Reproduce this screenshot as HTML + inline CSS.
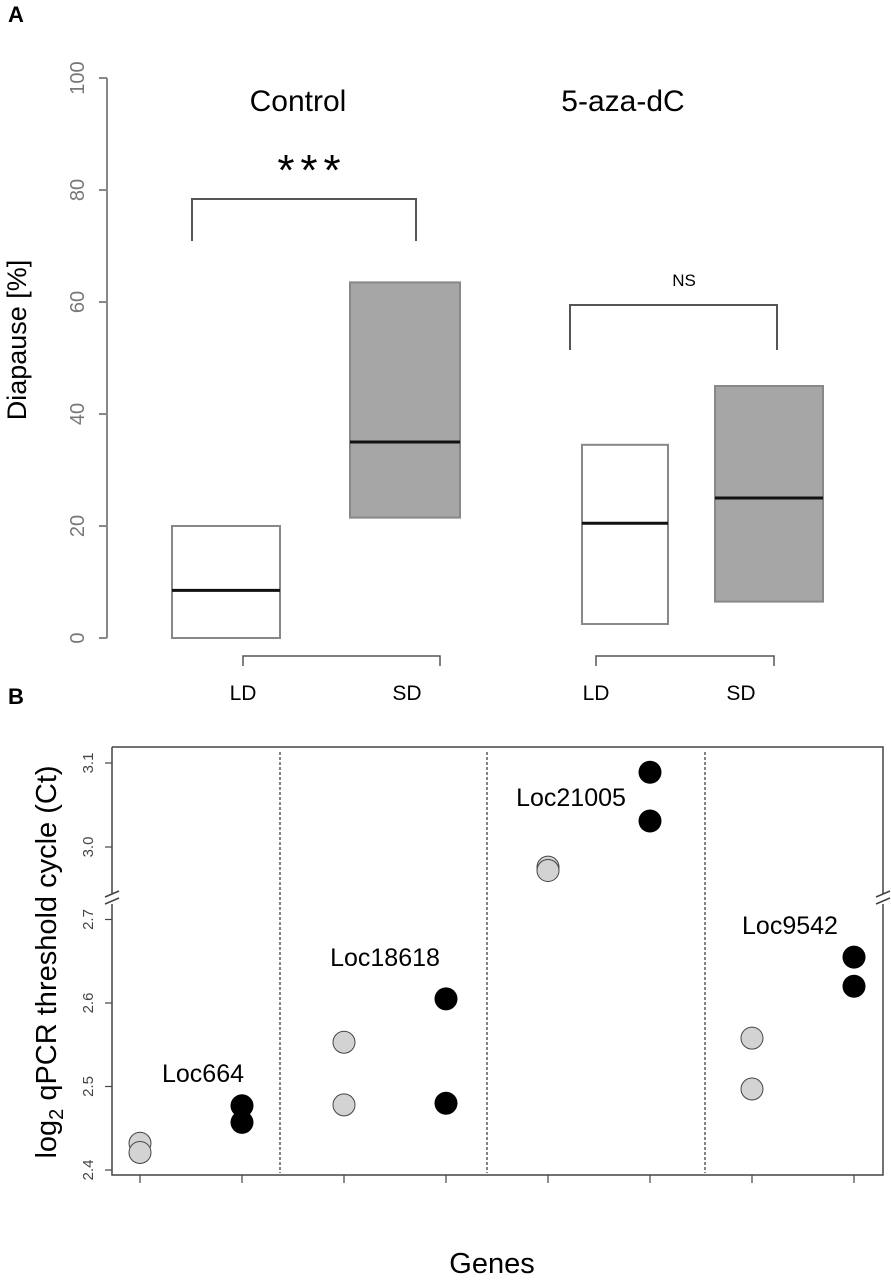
<!DOCTYPE html>
<html><head><meta charset="utf-8"><style>
body{margin:0;background:#fff;}
svg{display:block;font-family:"Liberation Sans",Arial,sans-serif;}
</style></head><body>
<svg id="fig" width="891" height="1280" viewBox="0 0 891 1280">
<text x="8" y="22" font-size="22" font-weight="bold">A</text>
<text x="8" y="704" font-size="22" font-weight="bold">B</text>
<g id="pa"></g>
<g id="pb"></g>
</svg>
<script>
// Panel A data
const boxGroups = ["Control LD","Control SD","5-aza LD","5-aza SD"];
const boxLow = [0, 21.5, 2.5, 6.5];
const boxHigh = [20, 63.5, 34.5, 45];
const boxMedian = [8.5, 35, 20.5, 25];
const aTicks = [0,20,40,60,80,100];
// Panel B data
const genes = ["Loc664","Loc18618","Loc21005","Loc9542"];
const grayVals = [[2.432,2.421],[2.553,2.478],[2.976,2.972],[2.558,2.497]];
const blackVals = [[2.477,2.457],[2.605,2.480],[3.089,3.031],[2.655,2.620]];
const bTicksLow = [2.4,2.5,2.6,2.7];
const bTicksHigh = [3.0,3.1];

const NS="http://www.w3.org/2000/svg";
function mk(p,t,a){const e=document.createElementNS(NS,t);for(const k in a)e.setAttribute(k,a[k]);p.appendChild(e);return e;}

// ---- Panel A
const pa=document.getElementById('pa');
const ya=v=>638-v*5.6;
const axA=mk(pa,'line',{x1:107,y1:ya(0),x2:107,y2:ya(100),stroke:'#888','stroke-width':2});


aTicks.forEach(t=>{
  const l=mk(pa,'line',{x1:99,y1:ya(t),x2:107,y2:ya(t),stroke:'#888','stroke-width':2});
  
  
  const tx=mk(pa,'text',{x:0,y:0,transform:`translate(84,${ya(t)}) rotate(-90)`,'text-anchor':'middle','font-size':20,fill:'#777'});
  tx.textContent=t;
  
  
});
const yt=mk(pa,'text',{transform:'translate(26,340) rotate(-90)','text-anchor':'middle','font-size':27});
yt.textContent='Diapause [%]';


const boxX=[[172,280],[350,460],[582,668],[715,823]];
const fills=['#fff','#a6a6a6','#fff','#a6a6a6'];
boxGroups.forEach((g,i)=>{
  const r=mk(pa,'rect',{x:boxX[i][0],y:ya(boxHigh[i]),width:boxX[i][1]-boxX[i][0],height:ya(boxLow[i])-ya(boxHigh[i]),fill:fills[i],stroke:'#888','stroke-width':2});
  
  
  const m=mk(pa,'line',{x1:boxX[i][0],x2:boxX[i][1],y1:ya(boxMedian[i]),y2:ya(boxMedian[i]),stroke:'#111','stroke-width':3});
  
  
});
function txt(p,x,y,s,size,name,anchor){const t=mk(p,'text',{x:x,y:y,'font-size':size,'text-anchor':anchor||'middle'});t.textContent=s;return t;}
txt(pa,298,111,'Control',30,'group-title-control');
txt(pa,623,111,'5-aza-dC',30,'group-title-aza');
const br1=mk(pa,'path',{d:'M192 241 V199 H416 V241',fill:'none',stroke:'#555','stroke-width':2});


const st=txt(pa,312,185,'***',44,'significance-stars');
st.setAttribute('letter-spacing','6');
const br2=mk(pa,'path',{d:'M570 350 V305 H777 V350',fill:'none',stroke:'#555','stroke-width':2});


txt(pa,684,286,'NS',17,'ns-label');
[[243,440],[596,774]].forEach(b=>{
  const p=mk(pa,'path',{d:`M${b[0]} 666 V656 H${b[1]} V666`,fill:'none',stroke:'#555','stroke-width':1.5});
  
  
  txt(pa,b[0],700,'LD',21,'x-label-ld');
  txt(pa,b[1]-33,700,'SD',21,'x-label-sd');
});

// ---- Panel B
const pb=document.getElementById('pb');
const yb=v=>v>=2.85?847-(v-3.0)*840:1170-(v-2.4)*835;
const xb=(gi,k)=>140+(gi*2+k)*102;
const frame=mk(pb,'path',{d:'M112 747 H883 V894 M883 904 V1175 H112 V904 M112 894 V747',fill:'none',stroke:'#444','stroke-width':1.5});


[[112],[883]].forEach(x=>{
  const b=mk(pb,'path',{d:`M${x[0]-7} 897 L${x[0]+7} 891 M${x[0]-7} 904 L${x[0]+7} 898`,stroke:'#444','stroke-width':1.5});
  
  
});
bTicksLow.concat(bTicksHigh).forEach(t=>{
  const y=yb(t);
  const l=mk(pb,'line',{x1:105,x2:112,y1:y,y2:y,stroke:'#444','stroke-width':1.2});
  
  
  const tx=mk(pb,'text',{transform:`translate(93,${y}) rotate(-90)`,'text-anchor':'middle','font-size':15,fill:'#444'});
  tx.textContent=t.toFixed(1);
  
  
});
[280,487,705].forEach(x=>{
  const d=mk(pb,'line',{x1:x,x2:x,y1:752,y2:1173,stroke:'#333','stroke-width':1.2,'stroke-dasharray':'3,2'});
  
  
});
const labPos=[[203,1082],[385,966],[571,806],[790,934]];
genes.forEach((g,gi)=>{
  for(let k=0;k<2;k++){
    const t=mk(pb,'line',{x1:xb(gi,k),x2:xb(gi,k),y1:1175,y2:1183,stroke:'#444','stroke-width':1.2});
    
    
  }
  grayVals[gi].forEach(v=>{
    const c=mk(pb,'circle',{cx:xb(gi,0),cy:yb(v),r:11,fill:'#d3d3d3',stroke:'#444','stroke-width':1});
    
    
  });
  blackVals[gi].forEach(v=>{
    const c=mk(pb,'circle',{cx:xb(gi,1),cy:yb(v),r:11.5,fill:'#000'});
    
    
  });
  txt(pb,labPos[gi][0],labPos[gi][1],g,25,'gene-label-'+g.toLowerCase());
});
const yt2=mk(pb,'text',{transform:'translate(56,962) rotate(-90)','text-anchor':'middle','font-size':29});
yt2.innerHTML='log<tspan font-size="20" dy="7">2</tspan><tspan dy="-7"> qPCR threshold cycle (Ct)</tspan>';


txt(pb,492,1273,'Genes',29,'x-axis-title');
</script>
</body></html>
